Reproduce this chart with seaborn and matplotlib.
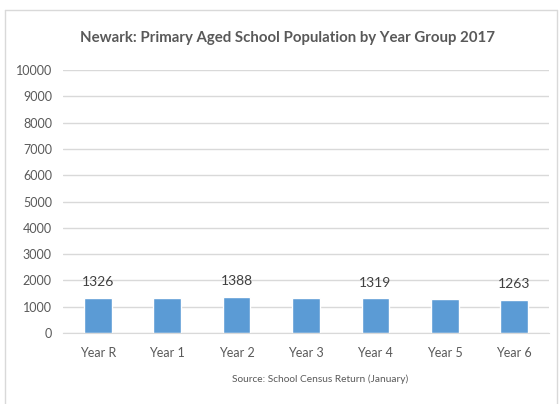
import pandas as pd
import seaborn as sns
import matplotlib.pyplot as plt
from matplotlib.lines import Line2D

# Values
year_groups = ["Year R", "Year 1", "Year 2", "Year 3", "Year 4", "Year 5", "Year 6"]
pupils = [1326, 1350, 1388, 1347, 1319, 1290, 1263]
labelled = ["Year R", "Year 2", "Year 4", "Year 6"]
y_ticks = list(range(0, 10001, 1000))

text_col = "#595959"
bar_col = "#5B9BD5"
grid_col = "#D9D9D9"

sns.set_style("white")
plt.rcParams["font.family"] = ["Lato", "DejaVu Sans"]

df = pd.DataFrame({"year": year_groups, "pupils": pupils})

fig = plt.figure(figsize=(5.6, 4.04), dpi=100)
ax = fig.add_axes([0.1125, 0.1757, 0.8678, 0.651])

sns.barplot(data=df, x="year", y="pupils", color=bar_col, width=0.4,
            saturation=1, ax=ax, zorder=3)

ax.set_ylim(0, 10000)
ax.set_yticks(y_ticks)
ax.set_yticklabels([str(t) for t in y_ticks])
ax.yaxis.grid(True, color=grid_col, linewidth=1, zorder=0)
ax.set_xlabel("")
ax.set_ylabel("")
for s in ["top", "right", "left"]:
    ax.spines[s].set_visible(False)
ax.spines["bottom"].set_color(grid_col)
ax.spines["bottom"].set_zorder(4)
ax.tick_params(axis="both", length=0, labelsize=9, colors=text_col, pad=8)
ax.tick_params(axis="x", pad=10)

# data labels on every other bar
for i, (yr, val) in enumerate(zip(year_groups, pupils)):
    if yr in labelled:
        ax.annotate(str(val), (i, val), textcoords="offset points",
                    xytext=(0, 7), ha="center", va="bottom",
                    fontsize=10, color="#404040")

fig.text(0.513, 0.905, "Newark: Primary Aged School Population by Year Group 2017",
         ha="center", va="center", fontsize=10.8, fontweight="bold", color=text_col)
fig.text(0.571, 0.062, "Source: School Census Return (January)",
         ha="center", va="center", fontsize=7.3, color=text_col)

# chart frame
frame_kw = dict(color=grid_col, linewidth=1, transform=fig.transFigure)
fig.lines.append(Line2D([0.009, 0.009], [0.0, 0.975], **frame_kw))
fig.lines.append(Line2D([0.009, 0.994], [0.975, 0.975], **frame_kw))
fig.lines.append(Line2D([0.994, 0.994], [0.0, 0.975], **frame_kw))

fig.savefig("out.png", dpi=100)
